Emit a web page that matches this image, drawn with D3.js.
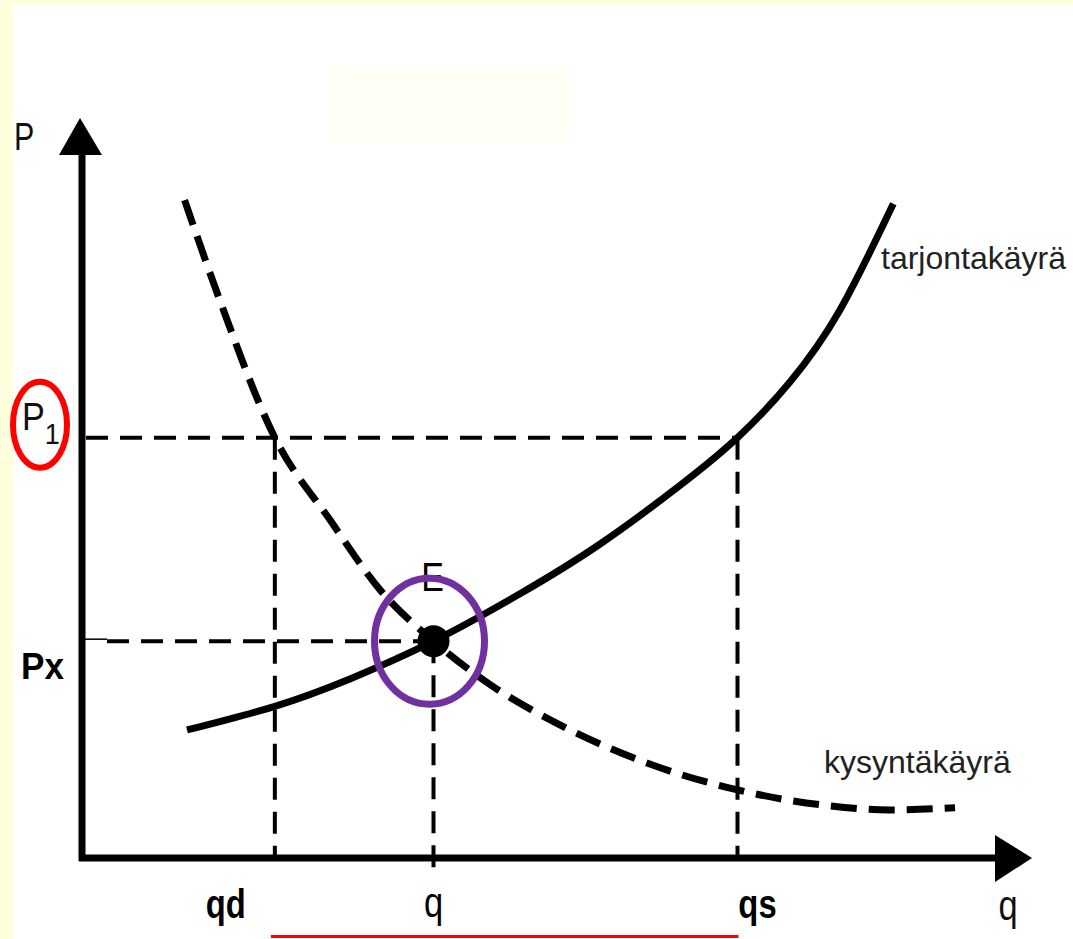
<!DOCTYPE html>
<html>
<head>
<meta charset="utf-8">
<script src="https://cdn.jsdelivr.net/npm/d3@7"></script>
<style>
  html, body { margin: 0; padding: 0; background: #ffffdd; }
  svg { display: block; }
</style>
</head>
<body>
<div id="chart"></div>
<script>
// Data (quantity 0..100, price 0..100)
const demandQ = [10.8, 14.5, 20.3, 26.1, 31.4, 37, 43, 50.3, 58.7, 69, 77.7, 85, 91.9];
const demandP = [88.9, 75.4, 56.8, 45.7, 36.2, 29.3, 23.4, 18, 13.2, 9.2, 7.2, 6.5, 6.8];
const supplyQ = [11.05, 20.3, 28.2, 37, 46.1, 54.5, 62.9, 69, 74.5, 79.8, 85.4];
const supplyP = [17.3, 20.5, 24.2, 29.3, 35.7, 42.4, 50.3, 56.8, 64.3, 74.1, 88.4];
const qMarks = [20.3, 37, 69];          // qd, q, qs
const qLabels = ['qd', 'q', 'qs'];
const pMarks = [56.8, 29.3];            // P1, Px
const eq = { q: 37, p: 29.3 };

const width = 1073, height = 939;

const svg = d3.select('#chart').append('svg')
  .attr('width', width)
  .attr('height', height);

// background: yellow frame, white panel
svg.append('rect').attr('width', width).attr('height', height).attr('fill', '#ffffdd');
svg.append('rect').attr('x', 13).attr('y', 5).attr('width', width - 13).attr('height', height - 5).attr('fill', '#ffffff');
svg.append('rect').attr('x', 330).attr('y', 65).attr('width', 240).attr('height', 77).attr('fill', '#fffff5');

const x = d3.scaleLinear().domain([0, 100]).range([82, 1032]);
const y = d3.scaleLinear().domain([0, 100]).range([858, 118]);

// guide lines (dashed)
const guide = svg.append('g')
  .attr('stroke', '#000')
  .attr('stroke-width', 4)
  .attr('stroke-dasharray', '22,12')
  .attr('fill', 'none');

// P1 horizontal to qs, verticals at qd and qs
guide.append('line').attr('x1', x(0) + 4).attr('x2', x(qMarks[2])).attr('y1', y(pMarks[0])).attr('y2', y(pMarks[0]));
guide.append('line').attr('x1', x(qMarks[0])).attr('x2', x(qMarks[0])).attr('y1', y(pMarks[0])).attr('y2', y(0));
guide.append('line').attr('x1', x(qMarks[2])).attr('x2', x(qMarks[2])).attr('y1', y(pMarks[0])).attr('y2', y(0));
// Px horizontal to E, vertical from E down
guide.append('line').attr('x1', x(0) + 25).attr('x2', x(eq.q)).attr('y1', y(pMarks[1])).attr('y2', y(pMarks[1]));
guide.append('line').attr('x1', x(eq.q)).attr('x2', x(eq.q)).attr('y1', y(eq.p)).attr('y2', y(0) + 12);
svg.append('line')
  .attr('x1', x(0)).attr('x2', x(0) + 25)
  .attr('y1', y(pMarks[1]) - 2).attr('y2', y(pMarks[1]) - 2)
  .attr('stroke', '#000').attr('stroke-width', 1.5);

// curves
const demandLine = d3.line()
  .x(d => x(d[0]))
  .y(d => y(d[1]))
  .curve(d3.curveMonotoneX);

const supplyLine = d3.line()
  .x(d => x(d[0]))
  .y(d => y(d[1]))
  .curve(d3.curveNatural);

svg.append('path')
  .datum(demandQ.map((q, i) => [q, demandP[i]]))
  .attr('d', demandLine)
  .attr('fill', 'none')
  .attr('stroke', '#000')
  .attr('stroke-width', 7)
  .attr('stroke-dasharray', '26,12');

svg.append('path')
  .datum(supplyQ.map((q, i) => [q, supplyP[i]]))
  .attr('d', supplyLine)
  .attr('fill', 'none')
  .attr('stroke', '#000')
  .attr('stroke-width', 7);

// axes with arrows
svg.append('line')
  .attr('x1', x(0)).attr('x2', x(0))
  .attr('y1', y(0) + 3).attr('y2', y(100) + 30)
  .attr('stroke', '#000').attr('stroke-width', 7);
svg.append('path')
  .attr('d', `M${x(0) - 23},${y(100) + 37} L${x(0) - 2},${y(100)} L${x(0) + 20},${y(100) + 37} Z`)
  .attr('fill', '#000');

svg.append('line')
  .attr('x1', x(0) - 3).attr('x2', x(100) - 30)
  .attr('y1', y(0)).attr('y2', y(0))
  .attr('stroke', '#000').attr('stroke-width', 7);
svg.append('path')
  .attr('d', `M${x(100) - 37},${y(0) - 23} L${x(100)},${y(0)} L${x(100) - 37},${y(0) + 24} Z`)
  .attr('fill', '#000');

// equilibrium point
svg.append('circle')
  .attr('cx', x(eq.q)).attr('cy', y(eq.p))
  .attr('r', 16).attr('fill', '#000');
svg.append('text')
  .attr('transform', `translate(${x(eq.q) - 1},${y(eq.p) - 50}) scale(0.85,1)`)
  .attr('text-anchor', 'middle')
  .attr('font-family', 'Liberation Sans, Arial, sans-serif')
  .attr('font-size', 40)
  .text('E');
svg.append('ellipse')
  .attr('cx', x(eq.q) - 4).attr('cy', y(eq.p))
  .attr('rx', 55).attr('ry', 63)
  .attr('fill', 'none')
  .attr('stroke', '#7030a0')
  .attr('stroke-width', 7);

// axis labels
const font = 'Liberation Sans, Arial, sans-serif';
svg.append('text')
  .attr('transform', 'translate(14,150) scale(0.8,1)')
  .attr('font-family', font).attr('font-size', 38)
  .attr('fill', '#111')
  .text('P');

const p1 = svg.append('text')
  .attr('transform', 'translate(22,430) scale(0.9,1)')
  .attr('font-family', font).attr('font-size', 38)
  .attr('fill', '#111');
p1.append('tspan').text('P');
p1.append('tspan').attr('dy', 14).attr('font-size', 30).text('1');
svg.append('ellipse')
  .attr('cx', 40).attr('cy', y(pMarks[0]) - 13)
  .attr('rx', 27).attr('ry', 43)
  .attr('fill', 'none')
  .attr('stroke', '#ff0000')
  .attr('stroke-width', 6);

svg.append('text')
  .attr('transform', 'translate(21,679) scale(0.95,1)')
  .attr('font-family', font)
  .attr('font-weight', 'bold').attr('font-size', 37)
  .text('Px');

svg.selectAll('.qlabel')
  .data(qMarks)
  .enter().append('text')
  .attr('class', 'qlabel')
  .attr('transform', (d, i) => {
    const lx = i === 0 ? x(d) - 49 : (i === 1 ? x(d) : x(d) + 20);
    return `translate(${lx},${i === 1 ? 917 : 918}) scale(0.82,1)`;
  })
  .attr('text-anchor', 'middle')
  .attr('font-family', font)
  .attr('font-weight', (d, i) => i === 1 ? 'normal' : 'bold')
  .attr('font-size', (d, i) => i === 1 ? 42 : 40)
  .text((d, i) => qLabels[i]);

svg.append('text')
  .attr('transform', 'translate(1008,920) scale(0.82,1)')
  .attr('text-anchor', 'middle')
  .attr('font-family', font).attr('font-size', 42)
  .attr('fill', '#111')
  .text('q');

// red underline between qd and qs
svg.append('line')
  .attr('x1', x(qMarks[0]) - 4).attr('x2', x(qMarks[2]) + 1)
  .attr('y1', 936.5).attr('y2', 936.5)
  .attr('stroke', '#ff0000').attr('stroke-width', 3);

// curve names
svg.append('text')
  .attr('x', 881).attr('y', 269)
  .attr('font-family', font)
  .attr('font-size', 32).attr('fill', '#222')
  .text('tarjontakäyrä');
svg.append('text')
  .attr('x', 824).attr('y', 773)
  .attr('font-family', font)
  .attr('font-size', 32).attr('fill', '#222')
  .text('kysyntäkäyrä');
</script>
</body>
</html>
